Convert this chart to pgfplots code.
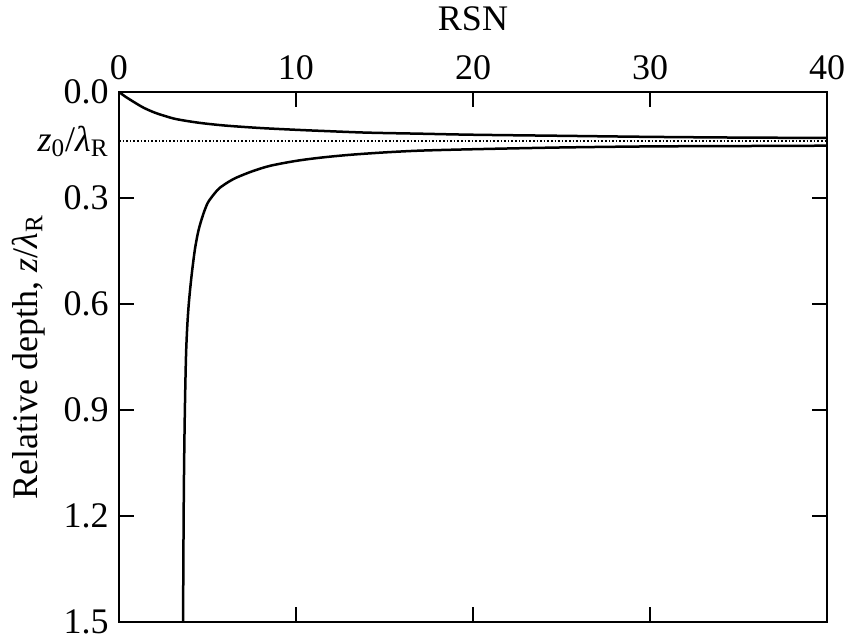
\documentclass[border=0pt]{standalone}
\usepackage{fontspec}
\setmainfont{Liberation Serif}
\usepackage{pgfplots}
\pgfplotsset{compat=1.18}
\begin{document}
\fontsize{18}{21}\selectfont
\begin{tikzpicture}
\begin{axis}[
  scale only axis,
  width=354pt, height=265pt,
  xmin=0, xmax=40, ymin=0, ymax=1.5,
  y dir=reverse,
  xtick={0,10,20,30,40},
  ytick={0,0.3,0.6,0.9,1.2,1.5},
  xticklabel pos=upper,
  yticklabel pos=left,
  tick align=inside,
  major tick length=7.5pt,
  axis line style={line width=1pt},
  every tick/.style={line width=0.9pt, black},
  /pgf/number format/assume math mode=true,
  yticklabel style={/pgf/number format/fixed, /pgf/number format/fixed zerofill, /pgf/number format/precision=1, xshift=1pt},
  ticklabel style={font=\fontsize{18}{21}\selectfont},
  xlabel={RSN},
  ylabel={Relative depth, \textit{z}/\textit{λ}\textsubscript{R}},
  label style={font=\fontsize{18}{21}\selectfont},
  ylabel style={at={(axis description cs:-0.128,0.5)}, anchor=center},
  extra y ticks={0.139},
  extra y tick labels={\textit{z}\textsubscript{0}/\textit{λ}\textsubscript{R}},
  extra y tick style={major tick length=0pt, yticklabel style={font=\fontsize{18}{21}\selectfont}},
  clip=true,
]
\addplot[black, line width=1.25pt, smooth] coordinates {
(0,0) (0.3,0.011) (0.7,0.024) (1.37,0.044) (2,0.058) (2.6,0.068) (3.26,0.077)
(4.5,0.087) (6,0.095) (8,0.102) (10,0.107) (11.4,0.110) (14,0.115) (17,0.118)
(20,0.121) (25,0.124) (30,0.127) (35,0.129) (40,0.130)
};
\addplot[black, line width=1.25pt, smooth, tension=0.5] coordinates {
(3.62,1.5) (3.64,1.3) (3.665,1.12) (3.70,0.97) (3.74,0.85) (3.79,0.74) (3.86,0.66)
(3.95,0.595) (4.1,0.52) (4.29,0.445) (4.5,0.39) (4.76,0.346) (5.0,0.315)
(5.2,0.300) (5.45,0.284) (5.7,0.271) (6.2,0.254) (6.65,0.242) (7.5,0.225)
(8.53,0.209) (10,0.195) (11.36,0.186) (13,0.178) (15,0.171) (17,0.166) (20,0.162)
(25,0.157) (30,0.154) (35,0.153) (40,0.152)
};
\addplot[black, line width=0.8pt, densely dotted] coordinates {(0,0.139) (40,0.139)};
\end{axis}
\pgfresetboundingbox
\path ([xshift=-59.5pt,yshift=-9pt]current axis.south west) rectangle ([xshift=9pt,yshift=46pt]current axis.north east);
\end{tikzpicture}
\end{document}
